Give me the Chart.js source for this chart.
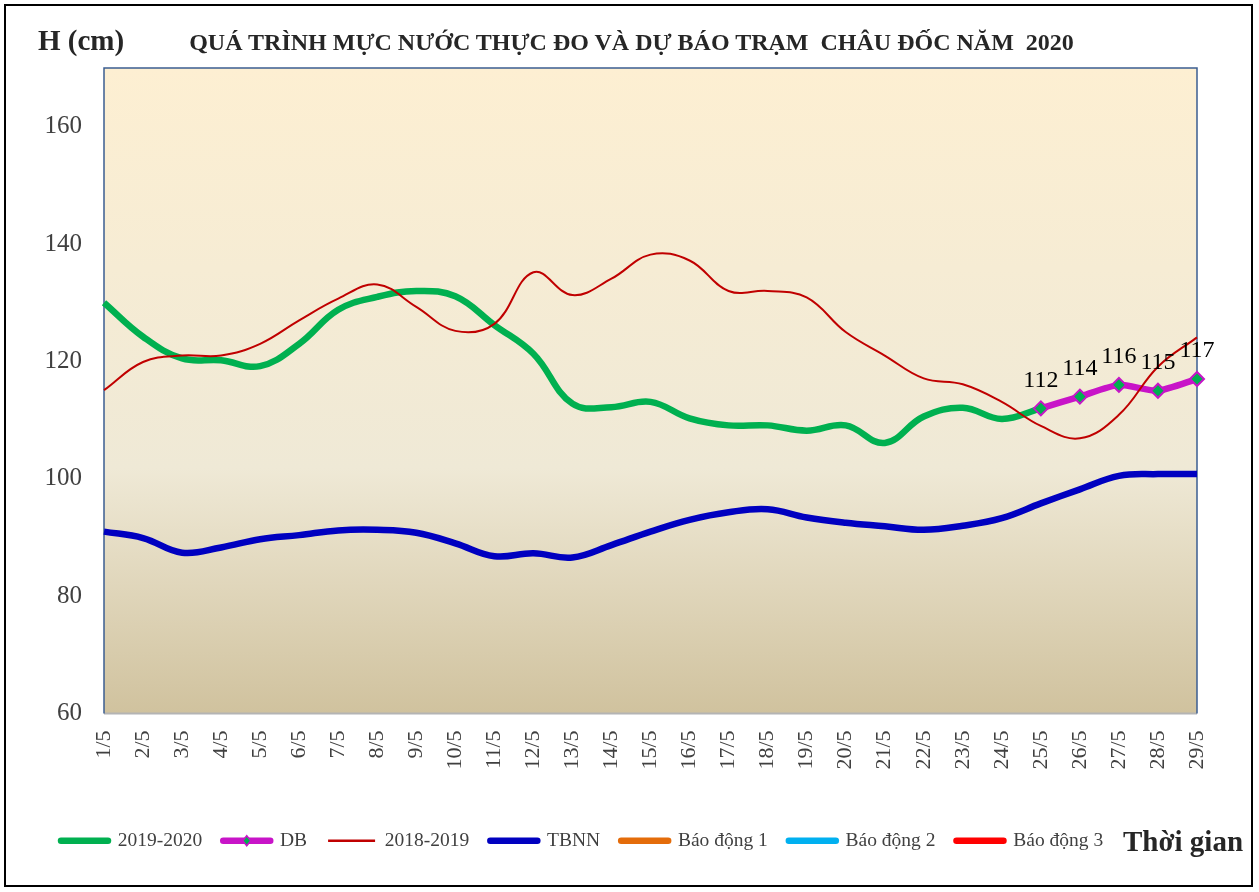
<!DOCTYPE html>
<html><head><meta charset="utf-8">
<script src="https://cdn.jsdelivr.net/npm/chart.js@4.4.1/dist/chart.umd.min.js"></script>
<style>
html,body{margin:0;padding:0;background:#fff;}
#wrap{position:relative;width:1259px;height:892px;overflow:hidden;}
#c{position:absolute;left:0;top:0;}
.t{position:absolute;font-family:"Liberation Serif","Times New Roman",serif;font-weight:bold;color:#262626;white-space:nowrap;line-height:1;}
</style></head><body>
<div id="wrap">
<canvas id="c" width="1259" height="892"></canvas>
<div class="t" id="yunit" style="left:38px;top:26px;font-size:29px;">H (cm)</div>
<div class="t" id="title" style="left:2px;width:1259px;text-align:center;top:30px;font-size:24px;">QUÁ TRÌNH MỰC NƯỚC THỰC ĐO VÀ DỰ BÁO TRẠM&nbsp; CHÂU ĐỐC NĂM&nbsp; 2020</div>
<div class="t" id="xunit" style="left:1123px;top:827px;font-size:29px;">Thời gian</div>
</div>
<script>
const days = ['1/5','2/5','3/5','4/5','5/5','6/5','7/5','8/5','9/5','10/5','11/5','12/5','13/5','14/5','15/5','16/5','17/5','18/5','19/5','20/5','21/5','22/5','23/5','24/5','25/5','26/5','27/5','28/5','29/5'];
const obs2020 = [130,124.2,120.5,120.2,119.2,123,128.8,131,132,131.1,126.2,121.3,112.8,112.2,113.1,110.3,109.1,109.1,108.2,109.1,106.1,110.6,112.1,110.2,112,null,null,null,null];
const forecast = [null,null,null,null,null,null,null,null,null,null,null,null,null,null,null,null,null,null,null,null,null,null,null,null,112,114,116,115,117];
const obs2019 = [115.1,119.9,121,121,123,127,130.7,133.1,129.3,125.2,126.4,135.2,131.3,134.1,138.2,137.2,132,132,130.9,125,121,117.1,116.1,113.1,109,106.9,110.9,119.1,124.1];
const tbnn = [91,89.9,87.4,88.3,89.7,90.4,91.2,91.3,90.8,89,86.8,87.3,86.6,88.7,91,93,94.3,94.8,93.4,92.5,91.9,91.3,92,93.3,95.8,98.2,100.5,100.8,100.8];
const alarm1 = [];
const alarm2 = [];
const alarm3 = [];
const yTicks = [60,80,100,120,140,160];
const yMin = 60, yMax = 170;

const FONT = '"Liberation Serif", "Times New Roman", serif';

const bgPlugin = {
  id:'bg',
  beforeDraw(chart){
    const {ctx, chartArea:a, width, height} = chart;
    ctx.save();
    ctx.fillStyle = '#fff'; ctx.fillRect(0,0,width,height);
    const g = ctx.createLinearGradient(0,a.top,0,a.bottom);
    g.addColorStop(0,'#FDEFD2');
    g.addColorStop(0.62,'#EFE9D6');
    g.addColorStop(1,'#D0C29E');
    ctx.fillStyle = g; ctx.fillRect(a.left,a.top,a.right-a.left,a.bottom-a.top);
    ctx.strokeStyle = '#B4B4B4'; ctx.lineWidth = 2;
    ctx.beginPath(); ctx.moveTo(a.left,a.bottom); ctx.lineTo(a.right,a.bottom); ctx.stroke();
    ctx.strokeStyle = '#3B5E91'; ctx.lineWidth = 1.5;
    ctx.beginPath(); ctx.moveTo(a.left,a.bottom); ctx.lineTo(a.left,a.top); ctx.lineTo(a.right,a.top); ctx.lineTo(a.right,a.bottom); ctx.stroke();
    ctx.strokeStyle = '#000'; ctx.lineWidth = 2;
    ctx.strokeRect(5,5,width-12,height-11);
    ctx.restore();
  }
};

const labelPlugin = {
  id:'dbLabels',
  afterDatasetsDraw(chart){
    const meta = chart.getDatasetMeta(1);
    const ctx = chart.ctx;
    ctx.save();
    ctx.font = '24px ' + FONT; ctx.fillStyle = '#000'; ctx.textAlign = 'center'; ctx.textBaseline = 'middle';
    meta.data.forEach((pt,i)=>{
      const v = forecast[i];
      if (v == null) return;
      ctx.fillText(String(v), pt.x, pt.y - 28);
    });
    ctx.restore();
  },
  afterDraw(chart){
    const lg = chart.legend;
    if (!lg || !lg.legendHitBoxes) return;
    const hb = lg.legendHitBoxes[1];
    const bw = lg.options.labels.pointStyleWidth;
    const fs = lg.options.labels.font.size;
    const cx = hb.left + bw/2, cy = hb.top + fs/2;
    const ctx = chart.ctx;
    ctx.save();
    ctx.fillStyle = '#00B050'; ctx.strokeStyle = '#C814C8'; ctx.lineWidth = 1.5;
    ctx.beginPath(); ctx.moveTo(cx,cy-5); ctx.lineTo(cx+4,cy); ctx.lineTo(cx,cy+5); ctx.lineTo(cx-4,cy); ctx.closePath();
    ctx.fill(); ctx.stroke();
    ctx.restore();
  }
};

const lineDs = (label, data, color, width, order, extra) => Object.assign({
  label, data, borderColor: color, backgroundColor: color, borderWidth: width,
  pointRadius: 0, pointHoverRadius: 0, tension: 0.4, fill: false, order,
  legendLineWidth: width, legendCap: 'round', spanGaps: false
}, extra || {});

new Chart(document.getElementById('c'), {
  type: 'line',
  data: {
    labels: days,
    datasets: [
      lineDs('2019-2020', obs2020, '#00B050', 6.5, 2),
      lineDs('DB', forecast, '#C814C8', 6.5, 1, {pointRadius: 7, pointStyle: 'rectRot', pointBackgroundColor: '#00B050', pointBorderColor: '#C814C8', pointBorderWidth: 2, tension: 0.2, clip: false}),
      lineDs('2018-2019', obs2019, '#C00000', 2, 0, {legendCap: 'butt', legendLineWidth: 2.5}),
      lineDs('TBNN', tbnn, '#0000C0', 6.5, 3),
      lineDs('Báo động 1', alarm1, '#E46C0A', 6.5, 4),
      lineDs('Báo động 2', alarm2, '#00B0F0', 6.5, 5),
      lineDs('Báo động 3', alarm3, '#FF0000', 6.5, 6)
    ]
  },
  options: {
    responsive: false, animation: false, devicePixelRatio: 1,
    layout: { padding: { left: 40, right: 62, top: 68, bottom: 31.5 } },
    plugins: {
      title: { display: false },
      tooltip: { enabled: false },
      legend: {
        position: 'bottom', align: 'start',
        labels: {
          usePointStyle: true, pointStyleWidth: 47, padding: 21,
          font: { family: FONT, size: 19.5 }, color: '#404040',
          generateLabels(chart){
            return chart.data.datasets.map((ds,i)=>({
              text: ds.label, fillStyle: ds.borderColor, strokeStyle: ds.borderColor,
              lineWidth: ds.legendLineWidth, lineCap: ds.legendCap, pointStyle: 'line',
              hidden: false, datasetIndex: i, fontColor: '#404040'
            }));
          }
        }
      }
    },
    scales: {
      x: {
        grid: { display: false, drawTicks: false }, border: { display: false },
        ticks: { font: { family: FONT, size: 22 }, color: '#404040', maxRotation: 90, minRotation: 90, padding: 17, autoSkip: false },
        afterFit(s){ s.height = 96.5; }
      },
      y: {
        min: yMin, max: yMax,
        grid: { display: false, drawTicks: false }, border: { display: false },
        ticks: { font: { family: FONT, size: 25 }, color: '#404040', padding: 22 },
        afterBuildTicks(s){ s.ticks = yTicks.map(v=>({value:v})); },
        afterFit(s){ s.width = 64; }
      }
    }
  },
  plugins: [bgPlugin, labelPlugin]
});
</script>
</body></html>
